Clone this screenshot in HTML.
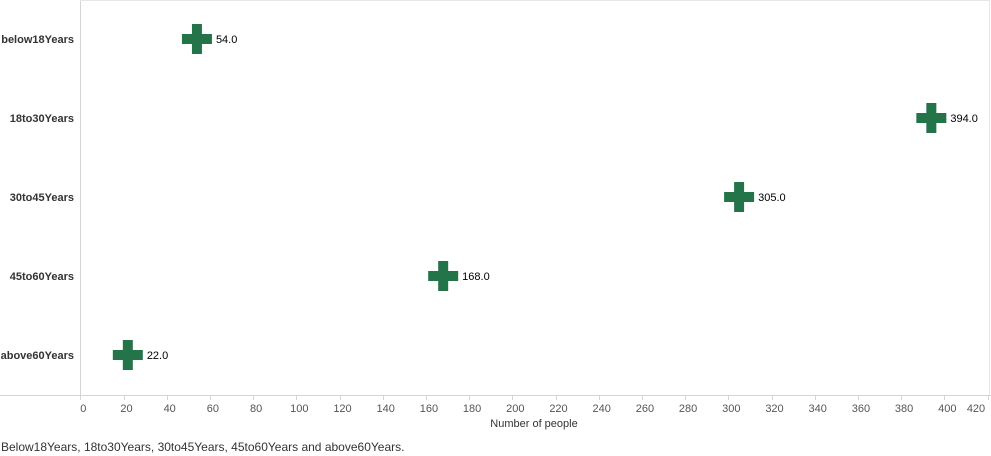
<!DOCTYPE html>
<html><head><meta charset="utf-8"><style>
body{margin:0;background:#fff;width:991px;height:456px;overflow:hidden;font-family:"Liberation Sans",Arial,sans-serif}
svg{display:block}
</style></head><body>
<svg width="991" height="456">
<g id="g"></g>
</svg>
<script>
const categories=["below18Years","18to30Years","30to45Years","45to60Years","above60Years"];
const values=[54,394,305,168,22];
const ticks=[0,20,40,60,80,100,120,140,160,180,200,220,240,260,280,300,320,340,360,380,400,420];
const x0=80.3,ppu=2.16,rowTop=0,rowH=79;
const xs=v=>x0+v*ppu, ys=i=>rowTop+rowH*i+39;
const NS="http://www.w3.org/2000/svg",g=document.getElementById('g');
function mk(t,a,txt){const e=document.createElementNS(NS,t);for(const k in a)e.setAttribute(k,a[k]);if(txt!=null)e.textContent=txt;g.appendChild(e);return e;}
let e;
e=mk('line',{x1:80.5,y1:0,x2:80.5,y2:395,stroke:'#d4d4d4'});


e=mk('line',{x1:80,y1:0.5,x2:990,y2:0.5,stroke:'#e6e6e6'});


e=mk('line',{x1:989.5,y1:0,x2:989.5,y2:395,stroke:'#e6e6e6'});


e=mk('line',{x1:0,y1:395.5,x2:991,y2:395.5,stroke:'#d4d4d4'});


ticks.forEach(t=>{
 e=mk('line',{x1:Math.round(xs(t))+0.5,y1:396,x2:Math.round(xs(t))+0.5,y2:400,stroke:'#d4d4d4'});
 
 
 let lx=Math.min(xs(t)+3,976);
 e=mk('text',{x:lx,y:412,'font-size':11,fill:'#555','text-anchor':'middle'},String(t));
 
 
});
categories.forEach((c,i)=>{
 e=mk('text',{x:74,y:ys(i)+4,'font-size':11,'font-weight':'bold',fill:'#333','text-anchor':'end'},c);
 
 
 const cx=xs(values[i]),cy=ys(i);
 e=mk('path',{d:`M${cx-5},${cy-15}h10v10h10v10h-10v10h-10v-10h-10v-10h10z`,fill:'#24744a'});
 
 
 e=mk('text',{x:cx+19,y:cy+4,'font-size':11,fill:'#000'},values[i].toFixed(1));
 
 
});
e=mk('text',{x:534,y:427,'font-size':11,fill:'#333','text-anchor':'middle'},'Number of people');


e=mk('text',{x:1,y:451,'font-size':12,fill:'#333'},'Below18Years, 18to30Years, 30to45Years, 45to60Years and above60Years.');


</script>
</body></html>
